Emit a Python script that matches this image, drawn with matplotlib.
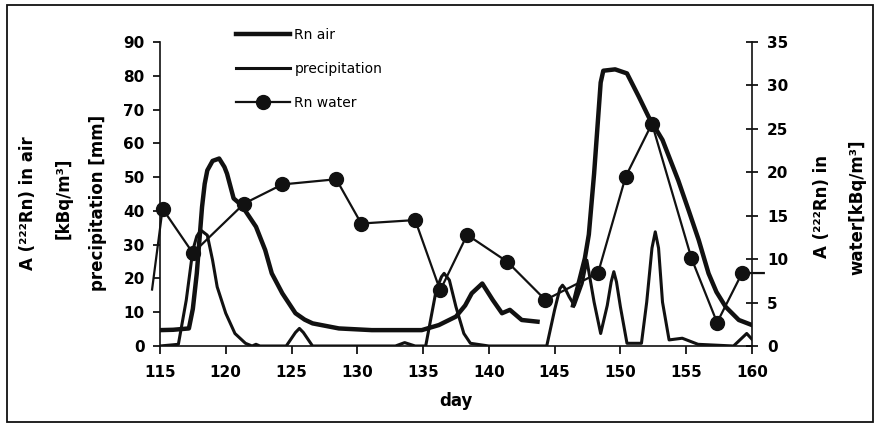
import numpy as np
import matplotlib.pyplot as plt
from matplotlib.patches import Rectangle

plt.rcParams['font.family'] = ['DejaVu Sans']
plt.rcParams['font.weight'] = 'bold'

# Rn in air [kBq/m3] -- two measured periods, NaN marks the gap
day_air = [115, 116, 117.2, 117.5, 117.8, 118.2, 118.4, 118.6, 119.0, 119.5, 119.9,
           120.1, 120.6, 121.2, 122.3, 123.0, 123.5, 124.3, 125.3, 126.0, 126.6,
           128.6, 131.1, 134.9, 136.2, 137.5, 138.2, 138.7, 139.5, 140.3, 141.0,
           141.6, 142.5, 143.7, np.nan,
           146.4, 147.3, 147.6, 148.0, 148.5, 148.7, 149.6, 150.5, 151.4, 152.15,
           153.2, 154.4, 155.2, 155.95, 156.7, 157.3, 158.0, 159.0, 160.0]
rn_air = [4.7, 4.8, 5.2, 11, 21.5, 41.2, 48, 52, 54.8, 55.5, 53,
          51, 43.7, 41.7, 35.3, 28.4, 21.5, 15.6, 9.7, 7.8, 6.7,
          5.2, 4.7, 4.7, 6.2, 8.7, 12, 15.6, 18.5, 13.6, 9.7,
          10.7, 7.7, 7.2, np.nan,
          12, 26, 33, 51, 78, 81.5, 81.9, 80.7, 73.8, 67.8,
          61, 49, 40, 31.4, 21.5, 16, 11.6, 7.7, 6.2]

# precipitation [mm]
day_pr = [115, 116.4, 117.0, 117.5, 117.8, 118.1, 118.6, 119.0, 119.35, 120.0, 120.7,
          121.5, 122.0, 122.3, 122.6, 124.6, 125.3, 125.6, 125.9, 126.6, 132.9,
          133.6, 134.4, 135.2, 136.0, 136.4, 136.6, 137.0, 137.5, 138.1, 138.6,
          140.0, 144.4, 145.0, 145.4, 145.6, 145.8, 146.1, 146.5, 147.1, 147.45,
          148.0, 148.5, 149.0, 149.3, 149.5, 149.7, 150.0, 150.5, 151.6, 152.0,
          152.4, 152.65, 152.9, 153.2, 153.7, 154.7, 155.9, 158.6, 159.6, 160.0]
precip = [0, 0.5, 13.6, 28.4, 32.5, 34.3, 32.8, 25.4, 17.5, 9.7, 3.7,
          0.8, 0, 0.5, 0, 0, 4, 5.2, 4, 0, 0,
          1, 0, 0, 16.6, 20.5, 21.5, 19.5, 11.6, 3.7, 0.8,
          0, 0, 10.7, 17, 18, 17, 14.6, 12, 18.5, 25.4,
          13, 3.7, 12, 19, 22, 19, 11.6, 0.8, 0.8, 13,
          29, 33.8, 29, 13, 1.8, 2.3, 0.5, 0, 3.7, 2]

# Rn in water [kBq/m3] (right axis); first and last points carry no marker
day_w = [114.4, 115.2, 117.5, 121.4, 124.3, 128.4, 130.3, 134.4, 136.3, 138.35,
         141.4, 144.3, 148.3, 150.4, 152.4, 155.4, 157.35, 159.25, 160.9]
rn_w = [6.5, 15.8, 10.7, 16.4, 18.6, 19.2, 14.1, 14.5, 6.4, 12.8,
        9.7, 5.3, 8.4, 19.5, 25.6, 10.1, 2.7, 8.4, 8.4]

fig = plt.figure(figsize=(8.76, 4.26), dpi=100)
ax = fig.add_axes([0.1826, 0.1878, 0.6758, 0.7136])
ax2 = ax.twinx()

k = '#111111'
l_air, = ax.plot(day_air, rn_air, color=k, lw=3.2, solid_joinstyle='round', label='Rn air')
l_pr, = ax.plot(day_pr, precip, color=k, lw=2.2, solid_joinstyle='round', label='precipitation')
l_w, = ax2.plot(day_w, rn_w, color=k, lw=1.6, marker='o', ms=10,
                markevery=list(range(1, len(day_w) - 1)), clip_on=False, label='Rn water')

ax.set_xlim(115, 160)
ax.set_ylim(0, 90)
ax2.set_ylim(0, 35)
ax.set_xticks(range(115, 161, 5))
ax.set_yticks(range(0, 91, 10))
ax2.set_yticks(range(0, 36, 5))

for s in ['top', 'right']:
    ax.spines[s].set_visible(False)
for s in ['top', 'left', 'bottom']:
    ax2.spines[s].set_visible(False)
for sp in [ax.spines['left'], ax.spines['bottom'], ax2.spines['right']]:
    sp.set_linewidth(1.2)
    sp.set_color(k)

ax.tick_params(axis='y', direction='out', length=5, width=1.2, pad=6, labelsize=11)
ax.tick_params(axis='x', direction='out', length=6, width=1.2, pad=8, labelsize=11)
ax2.tick_params(axis='y', direction='inout', length=8, width=1.2, pad=7, labelsize=11)

ax.set_xlabel('day', fontsize=12, fontweight='bold', labelpad=8)

# axis titles
fig.text(28 / 876, 1 - 203 / 426, 'A (²²²Rn) in air', rotation=90, ha='center', va='center', fontsize=12)
fig.text(64 / 876, 1 - 198 / 426, '[kBq/m³]', rotation=90, ha='center', va='center', fontsize=12)
fig.text(98 / 876, 1 - 203 / 426, 'precipitation [mm]', rotation=90, ha='center', va='center', fontsize=12)
fig.text(822 / 876, 1 - 207 / 426, 'A (²²²Rn) in', rotation=90, ha='center', va='center', fontsize=12)
fig.text(857 / 876, 1 - 207 / 426, 'water[kBq/m³]', rotation=90, ha='center', va='center', fontsize=12)

fig.legend(handles=[l_air, l_pr, l_w], loc='upper left',
           bbox_to_anchor=(236 / 876, 1 - 28 / 426), frameon=False,
           handlelength=3.9, handletextpad=0.3,
           labelspacing=1.45, borderpad=0, borderaxespad=0,
           prop={'weight': 'normal', 'size': 10})

fig.patches.append(Rectangle((0.008, 0.01), 0.989, 0.978, transform=fig.transFigure,
                             fill=False, lw=1.3, ec=k))

fig.savefig('out.png', dpi=100)
